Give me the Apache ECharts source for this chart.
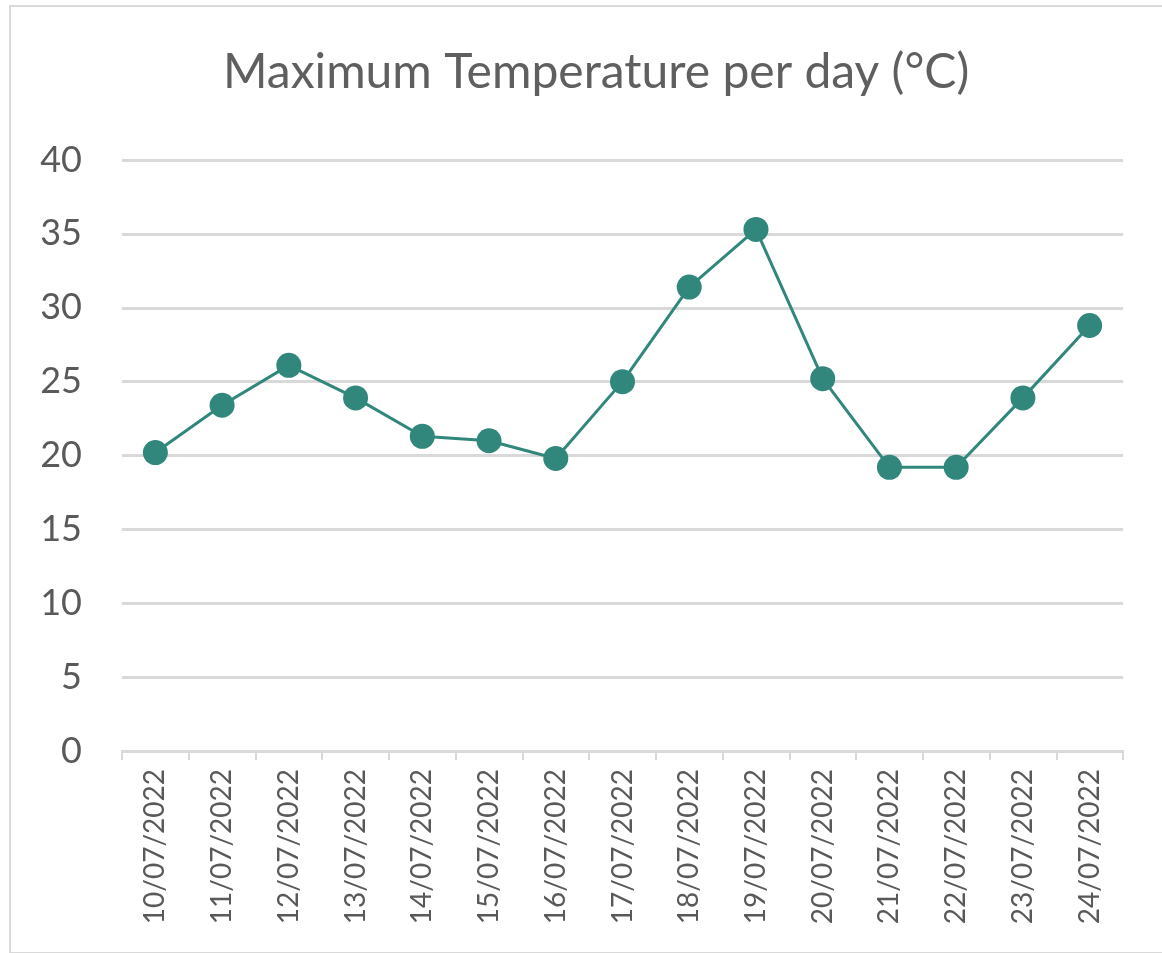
<!DOCTYPE html>
<html>
<head>
<meta charset="utf-8">
<script src="https://cdn.jsdelivr.net/npm/echarts@6/dist/echarts.min.js"></script>
<style>
    html, body { margin: 0; padding: 0; background: #fff; }
    #frame {
        position: absolute; left: 9px; top: 5px; width: 1160px; height: 945px;
        border: 2px solid #d9d9d9; border-right: none; background: #fff;
    }
    #main { position: absolute; left: -11px; top: -7px; width: 1162px; height: 953px; }
</style>
</head>
<body>
<div id="frame"><div id="main"></div></div>
<script>
var days = ['10/07/2022', '11/07/2022', '12/07/2022', '13/07/2022', '14/07/2022',
    '15/07/2022', '16/07/2022', '17/07/2022', '18/07/2022', '19/07/2022',
    '20/07/2022', '21/07/2022', '22/07/2022', '23/07/2022', '24/07/2022'];
var maxTemp = [20.2, 23.4, 26.1, 23.9, 21.3, 21.0, 19.8, 25.0, 31.4, 35.3, 25.2, 19.2, 19.2, 23.9, 28.8];
var yTicks = [0, 5, 10, 15, 20, 25, 30, 35, 40];

var myChart = echarts.init(document.getElementById('main'));

var option = {
    backgroundColor: 'transparent',
    animation: false,
    title: {
        text: 'Maximum Temperature per day (\u00B0C)',
        left: 218,
        top: 44,
        textStyle: {
            fontFamily: 'Lato',
            fontWeight: 'normal',
            fontSize: 48,
            color: '#5f5f5f'
        }
    },
    grid: {
        left: 122,
        right: 39,
        top: 160,
        bottom: 202
    },
    xAxis: {
        type: 'category',
        data: days,
        boundaryGap: true,
        axisLine: { lineStyle: { color: '#d9d9d9', width: 2 } },
        axisTick: { show: true, length: 9, lineStyle: { color: '#d9d9d9', width: 2 } },
        axisLabel: {
            rotate: 90,
            margin: 18,
            fontFamily: 'Lato',
            fontSize: 28,
            color: '#595959'
        }
    },
    yAxis: {
        type: 'value',
        min: yTicks[0],
        max: yTicks[yTicks.length - 1],
        interval: 5,
        axisLine: { show: false },
        axisTick: { show: false },
        splitLine: { lineStyle: { color: '#d9d9d9', width: 3 } },
        axisLabel: {
            margin: 40,
            fontFamily: 'Lato',
            fontSize: 36,
            color: '#595959'
        }
    },
    series: [
        {
            name: 'Max temperature',
            type: 'line',
            data: maxTemp,
            symbol: 'circle',
            symbolSize: 25,
            itemStyle: { color: '#31877c' },
            lineStyle: { color: '#31877c', width: 3 }
        }
    ]
};

myChart.setOption(option);
window.onresize = myChart.resize;
</script>
</body>
</html>
